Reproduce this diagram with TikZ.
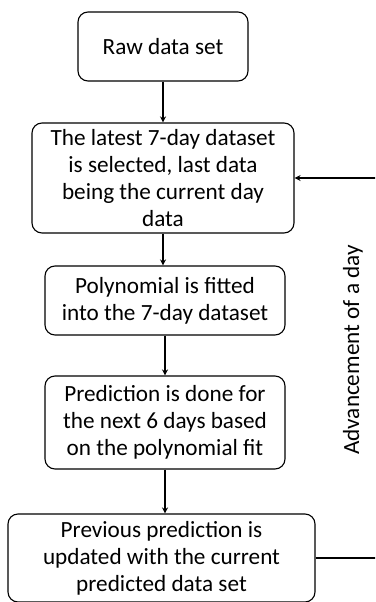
\documentclass[tikz,border=0pt]{standalone}
\usepackage{fontspec}
\setmainfont{Carlito}
\usetikzlibrary{arrows.meta}
\begin{document}
\begin{tikzpicture}[x=1pt,y=-1pt,
  box/.style={draw, line width=1.1pt, rounded corners=10pt, align=center, inner sep=0pt,
    font=\fontsize{23.2}{27}\selectfont},
  arr/.style={line width=1.1pt, -{Stealth[length=6pt,width=6pt]}},
  lbl/.style={font=\fontsize{23.2}{27}\selectfont, rotate=90}]
\useasboundingbox (0,0) rectangle (375,602);
\clip (0,0) rectangle (375,602);
\node[box, minimum width=170pt, minimum height=69pt] (raw) at (163,46.5) {Raw data set};
\node[box, minimum width=262pt, minimum height=110pt] (sel) at (163,178) {The latest 7-day dataset\\is selected, last data\\being the current day\\data};
\node[box, minimum width=240pt, minimum height=69pt] (fit) at (165,300.5) {Polynomial is fitted\\into the 7-day dataset};
\node[box, minimum width=240pt, minimum height=93pt] (pred) at (165,422.5) {Prediction is done for\\the next 6 days based\\on the polynomial fit};
\node[box, minimum width=307pt, minimum height=88pt] (upd) at (161.5,558) {Previous prediction is\\updated with the current\\predicted data set};
\node[lbl] (adv) at (353,350) {Advancement of a day};
\coordinate (c1) at (380,558);
\coordinate (c2) at (380,178);
\draw[arr] (raw.south) -- (raw.south |- sel.north);
\draw[arr] (sel.south) -- (sel.south |- fit.north);
\draw[arr] (fit.south) -- (fit.south |- pred.north);
\draw[arr] (pred.south) -- (pred.south |- upd.north);
\draw[arr] (upd.east) -- (c1) -- (c2) -- (sel.east);
\end{tikzpicture}
\end{document}
